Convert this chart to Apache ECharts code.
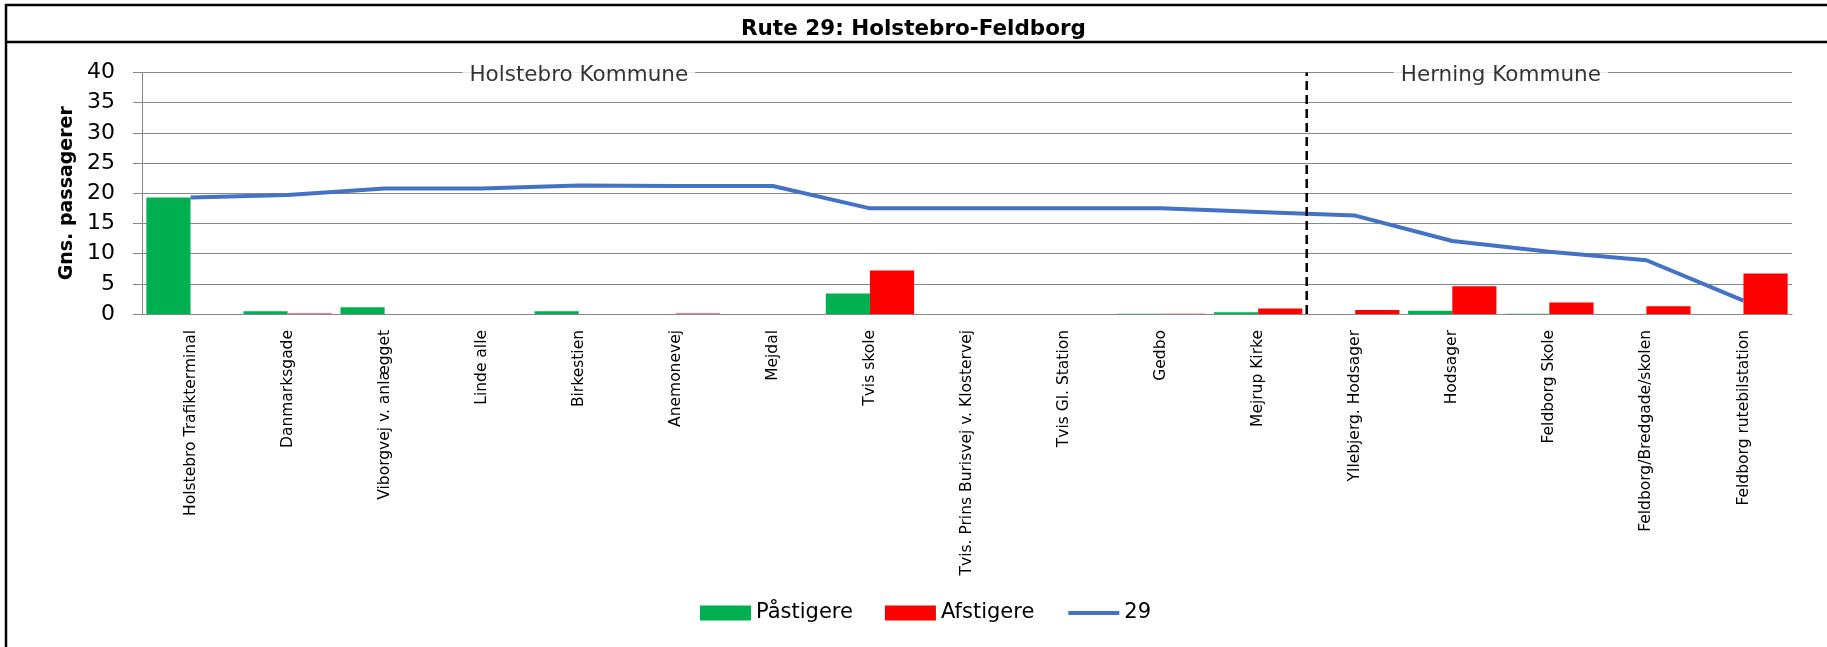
<!DOCTYPE html>
<html><head><meta charset="utf-8">
<script src="https://cdn.jsdelivr.net/npm/echarts@6/dist/echarts.min.js"></script>
<style>html,body{margin:0;padding:0;background:#fff}#c{width:1827px;height:647px}</style>
</head><body><div id="c"></div>
<script>
const categories = ['Holstebro Trafikterminal','Danmarksgade','Viborgvej v. anlægget','Linde alle','Birkestien','Anemonevej','Mejdal','Tvis skole','Tvis. Prins Burisvej v. Klostervej','Tvis Gl. Station','Gedbo','Mejrup Kirke','Yllebjerg. Hodsager','Hodsager','Feldborg Skole','Feldborg/Bredgade/skolen','Feldborg rutebilstation'];
const paastigere = [19.3, 0.45, 1.1, 0, 0.45, 0, 0, 3.4, 0, 0, 0.05, 0.3, 0, 0.55, 0.05, 0, 0];
const afstigere  = [0, 0.1, 0, 0, 0, 0.1, 0, 7.2, 0, 0, 0.05, 0.9, 0.65, 4.6, 1.9, 1.3, 6.7];
const route29    = [19.3, 19.7, 20.8, 20.8, 21.3, 21.2, 21.2, 17.5, 17.5, 17.5, 17.5, 16.9, 16.3, 12.1, 10.3, 8.9, 2.2];
const yMin = 0, yMax = 40, yInterval = 5;
const kommuneNames = ['Holstebro Kommune', 'Herning Kommune'];
const kommuneLabelPos = [4.5, 14];
const kommuneBoundary = 12;

const FONT = 'DejaVu Sans';
const GRID = '#888888';
const chart = echarts.init(document.getElementById('c'), null, {renderer: 'canvas'});
chart.setOption({
  animation: false,
  backgroundColor: '#fff',
  title: {
    text: 'Rute 29: Holstebro-Feldborg', left: 'center', top: 11,
    textStyle: {fontFamily: FONT, fontWeight: 'bold', fontSize: 21.5, color: '#000', lineHeight: 26}
  },
  graphic: [
    {type: 'line', shape: {x1: 5, y1: 5, x2: 1827, y2: 5}, style: {stroke: '#000', lineWidth: 2.5}, silent: true},
    {type: 'line', shape: {x1: 6, y1: 4, x2: 6, y2: 647}, style: {stroke: '#000', lineWidth: 2.5}, silent: true},
    {type: 'line', shape: {x1: 5, y1: 42, x2: 1827, y2: 42}, style: {stroke: '#000', lineWidth: 2.5}, silent: true}
  ],
  legend: {
    data: [
      {name: 'Påstigere', icon: 'rect'},
      {name: 'Afstigere', icon: 'rect'},
      {name: '29', itemStyle: {opacity: 0, color: 'rgba(0,0,0,0)', borderWidth: 0}, lineStyle: {width: 4, color: '#4472C4'}}
    ],
    left: 695, top: 596, itemWidth: 51, itemHeight: 15, itemGap: 32,
    textStyle: {fontFamily: FONT, fontSize: 21, color: '#000', lineHeight: 24}
  },
  grid: {left: 142, right: 35, top: 72.5, bottom: 333, containLabel: false},
  xAxis: [
    {
      type: 'category', data: categories, boundaryGap: true,
      axisLine: {lineStyle: {color: GRID}},
      axisTick: {length: 5, lineStyle: {color: GRID}},
      axisLabel: {rotate: 90, interval: 0, margin: 16, fontFamily: FONT, fontSize: 15.5, color: '#000'}
    },
    {type: 'value', min: 0, max: categories.length, show: false}
  ],
  yAxis: {
    type: 'value', min: yMin, max: yMax, interval: yInterval,
    name: 'Gns. passagerer', nameLocation: 'middle', nameGap: 64,
    nameTextStyle: {fontFamily: FONT, fontWeight: 'bold', fontSize: 19, color: '#000'},
    axisLine: {show: true, lineStyle: {color: GRID}},
    axisTick: {show: true, length: 9, lineStyle: {color: GRID}},
    axisLabel: {margin: 27, fontFamily: FONT, fontSize: 22, color: '#000'},
    splitLine: {lineStyle: {color: GRID, width: 1.2}}
  },
  series: [
    {name: 'Påstigere', type: 'bar', data: paastigere, itemStyle: {color: '#00B050'}, barGap: '0%', barCategoryGap: '9%'},
    {name: 'Afstigere', type: 'bar', data: afstigere, itemStyle: {color: '#FF0000'}},
    {name: '29', type: 'line', data: route29, symbol: 'none', lineStyle: {color: '#4472C4', width: 4}, itemStyle: {color: '#4472C4'}, z: 5},
    {
      name: 'grænse', type: 'line', xAxisIndex: 1, symbol: 'none', silent: true, z: 6,
      data: [[kommuneBoundary, yMin], [kommuneBoundary, yMax]],
      lineStyle: {color: '#000', width: 2.5, type: [9, 5]}
    },
    {
      name: 'kommuner', type: 'scatter', xAxisIndex: 1, symbolSize: 0, silent: true, z: 7,
      data: kommuneNames.map((n, i) => ({name: n, value: [kommuneLabelPos[i], yMax]})),
      label: {show: true, position: 'inside', formatter: '{b}', backgroundColor: '#fff', padding: [2, 7],
        fontFamily: FONT, fontSize: 21.5, color: '#000', offset: [0, 3]}
    }
  ]
});
</script></body></html>
